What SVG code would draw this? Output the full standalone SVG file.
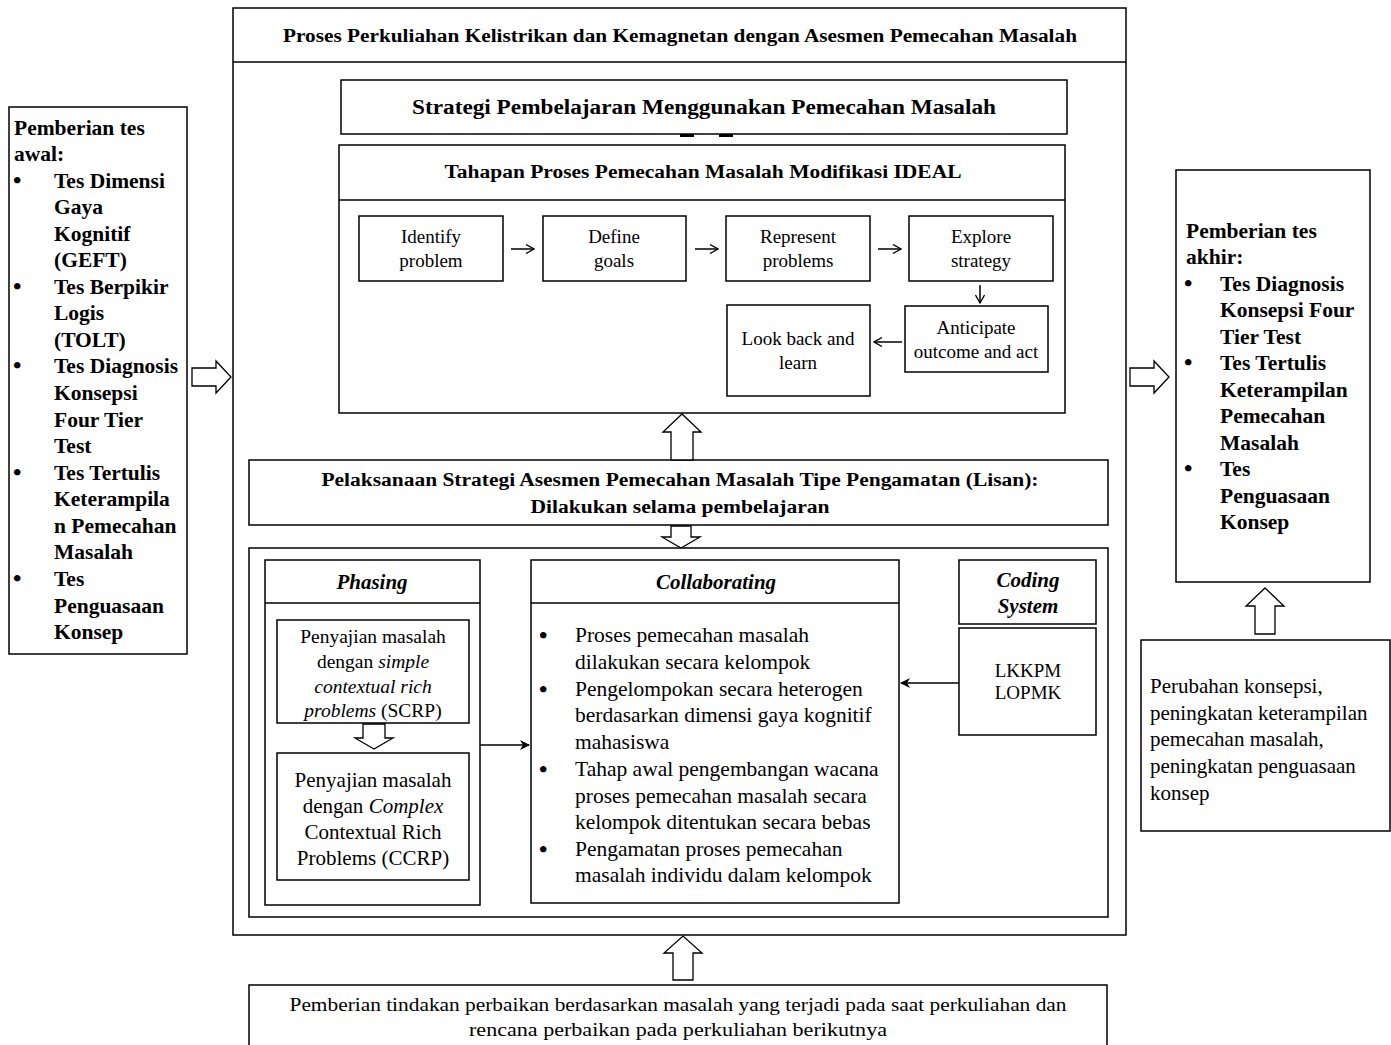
<svg xmlns="http://www.w3.org/2000/svg" width="1391" height="1045" viewBox="0 0 1391 1045">
<defs>
<style>
.box{fill:#fff;stroke:#000;stroke-width:1.5}
.hol{fill:#fff;stroke:#000;stroke-width:1.3}
.ln{fill:none;stroke:#000;stroke-width:1.5}
text{font-family:"Liberation Serif","Times New Roman",serif;fill:#000}
.b{font-weight:bold}
.bi{font-weight:bold;font-style:italic}
.c{text-anchor:middle}
.bu{font-size:24px;font-weight:bold}
.s18{font-size:18px}
.s19{font-size:19px}
.s21{font-size:21px}
.s215{font-size:21.5px}
</style>
<marker id="ah" viewBox="0 0 10 10" refX="9" refY="5" markerWidth="10" markerHeight="10" markerUnits="userSpaceOnUse" orient="auto">
<path d="M1,0.5 L9,5 L1,9.5" fill="none" stroke="#000" stroke-width="1.3"/>
</marker>
<marker id="af" viewBox="0 0 10 10" refX="9" refY="5" markerWidth="10" markerHeight="10" markerUnits="userSpaceOnUse" orient="auto">
<path d="M0,0 L10,5 L0,10 L3,5 Z" fill="#000"/>
</marker>
</defs>
<rect width="1391" height="1045" fill="#fff"/>

<g id="main-frame">
<rect class="box" x="233" y="8" width="893" height="927"/>
<line class="ln" x1="233" y1="62" x2="1126" y2="62"/>
<text class="b c s18" x="680" y="42" textLength="794" lengthAdjust="spacingAndGlyphs">Proses Perkuliahan Kelistrikan dan Kemagnetan dengan Asesmen Pemecahan Masalah</text>
</g>

<g id="strategi">
<rect x="680" y="132" width="14" height="5" fill="#000"/>
<rect x="719" y="132" width="14" height="5" fill="#000"/>
<rect class="box" x="341" y="80" width="726" height="54"/>
<text class="b c" font-size="20" x="704" y="114" textLength="584" lengthAdjust="spacingAndGlyphs">Strategi Pembelajaran Menggunakan Pemecahan Masalah</text>
</g>

<g id="tahapan">
<rect class="box" x="339" y="145" width="726" height="268"/>
<line class="ln" x1="339" y1="200" x2="1065" y2="200"/>
<text class="b c s18" x="703" y="178" textLength="517" lengthAdjust="spacingAndGlyphs">Tahapan Proses Pemecahan Masalah Modifikasi IDEAL</text>
</g>

<g id="identify">
<rect class="box" x="359" y="216" width="144" height="65"/>
<text class="c s19" x="431" y="243">Identify</text>
<text class="c s19" x="431" y="267">problem</text>
</g>
<g id="define">
<rect class="box" x="543" y="216" width="143" height="65"/>
<text class="c s19" x="614" y="243">Define</text>
<text class="c s19" x="614" y="267">goals</text>
</g>
<g id="represent">
<rect class="box" x="726" y="216" width="144" height="65"/>
<text class="c s19" x="798" y="243">Represent</text>
<text class="c s19" x="798" y="267">problems</text>
</g>
<g id="explore">
<rect class="box" x="909" y="216" width="144" height="65"/>
<text class="c s19" x="981" y="243">Explore</text>
<text class="c s19" x="981" y="267">strategy</text>
</g>
<g id="anticipate">
<rect class="box" x="905" y="306" width="143" height="66"/>
<text class="c s19" x="976" y="334">Anticipate</text>
<text class="c s19" x="976" y="358">outcome and act</text>
</g>
<g id="lookback">
<rect class="box" x="727" y="305" width="143" height="91"/>
<text class="c s19" x="798" y="345">Look back and</text>
<text class="c s19" x="798" y="369">learn</text>
</g>

<g id="pelaksanaan">
<rect class="box" x="249" y="460" width="859" height="65"/>
<text class="b c s18" x="680" y="486" textLength="717" lengthAdjust="spacingAndGlyphs">Pelaksanaan Strategi Asesmen Pemecahan Masalah Tipe Pengamatan (Lisan):</text>
<text class="b c s18" x="680" y="513" textLength="299" lengthAdjust="spacingAndGlyphs">Dilakukan selama pembelajaran</text>
</g>

<g id="inner-frame">
<rect class="box" x="249" y="548" width="859" height="369" stroke-width="2"/>
</g>

<g id="phasing">
<rect class="box" x="265" y="560" width="215" height="345"/>
<line class="ln" x1="265" y1="603" x2="480" y2="603"/>
<text class="bi c s21" x="372" y="589">Phasing</text>
</g>
<g id="scrp">
<rect class="box" x="277" y="620" width="192" height="103"/>
<text class="c" font-size="19.5" x="373" y="643">Penyajian masalah</text>
<text class="c" font-size="19.5" x="373" y="668">dengan <tspan font-style="italic">simple</tspan></text>
<text class="c" font-size="19.5" x="373" y="693" font-style="italic">contextual rich</text>
<text class="c" font-size="19.5" x="373" y="717"><tspan font-style="italic">problems</tspan> (SCRP)</text>
</g>
<g id="ccrp">
<rect class="box" x="277" y="753" width="192" height="127"/>
<text class="c s21" x="373" y="787">Penyajian masalah</text>
<text class="c s21" x="373" y="813">dengan <tspan font-style="italic">Complex</tspan></text>
<text class="c s21" x="373" y="839">Contextual Rich</text>
<text class="c s21" x="373" y="865">Problems (CCRP)</text>
</g>

<g id="collaborating">
<rect class="box" x="531" y="560" width="368" height="343"/>
<line class="ln" x1="531" y1="603" x2="899" y2="603"/>
<text class="bi c s21" x="716" y="589">Collaborating</text>
<g class="s215">
<text class="bu" x="539" y="643">•</text><text x="575" y="642">Proses pemecahan masalah</text>
<text x="575" y="669">dilakukan secara kelompok</text>
<text class="bu" x="539" y="697">•</text><text x="575" y="696">Pengelompokan secara heterogen</text>
<text x="575" y="722">berdasarkan dimensi gaya kognitif</text>
<text x="575" y="749">mahasiswa</text>
<text class="bu" x="539" y="777">•</text><text x="575" y="776">Tahap awal pengembangan wacana</text>
<text x="575" y="803">proses pemecahan masalah secara</text>
<text x="575" y="829">kelompok ditentukan secara bebas</text>
<text class="bu" x="539" y="857">•</text><text x="575" y="856">Pengamatan proses pemecahan</text>
<text x="575" y="882">masalah individu dalam kelompok</text>
</g>
</g>

<g id="coding-system">
<rect class="box" x="959" y="560" width="137" height="64"/>
<text class="bi c s21" x="1028" y="587">Coding</text>
<text class="bi c s21" x="1028" y="613">System</text>
</g>
<g id="lkkpm">
<rect class="box" x="959" y="628" width="137" height="107"/>
<text class="c s19" x="1028" y="677">LKKPM</text>
<text class="c s19" x="1028" y="699">LOPMK</text>
</g>

<g id="pretest">
<rect class="box" x="9" y="107" width="178" height="547"/>
<g class="b s215">
<text x="14" y="135">Pemberian tes</text>
<text x="14" y="161">awal:</text>
<text class="bu" x="13" y="188">•</text><text x="54" y="188">Tes Dimensi</text>
<text x="54" y="214">Gaya</text>
<text x="54" y="241">Kognitif</text>
<text x="54" y="267">(GEFT)</text>
<text class="bu" x="13" y="294">•</text><text x="54" y="294">Tes Berpikir</text>
<text x="54" y="320">Logis</text>
<text x="54" y="347">(TOLT)</text>
<text class="bu" x="13" y="373">•</text><text x="54" y="373">Tes Diagnosis</text>
<text x="54" y="400">Konsepsi</text>
<text x="54" y="427">Four Tier</text>
<text x="54" y="453">Test</text>
<text class="bu" x="13" y="480">•</text><text x="54" y="480">Tes Tertulis</text>
<text x="54" y="506">Keterampila</text>
<text x="54" y="533">n Pemecahan</text>
<text x="54" y="559">Masalah</text>
<text class="bu" x="13" y="586">•</text><text x="54" y="586">Tes</text>
<text x="54" y="613">Penguasaan</text>
<text x="54" y="639">Konsep</text>
</g>
</g>

<g id="posttest">
<rect class="box" x="1176" y="170" width="194" height="412"/>
<g class="b s215">
<text x="1186" y="238">Pemberian tes</text>
<text x="1186" y="264">akhir:</text>
<text class="bu" x="1184" y="291">•</text><text x="1220" y="291">Tes Diagnosis</text>
<text x="1220" y="317">Konsepsi Four</text>
<text x="1220" y="344">Tier Test</text>
<text class="bu" x="1184" y="370">•</text><text x="1220" y="370">Tes Tertulis</text>
<text x="1220" y="397">Keterampilan</text>
<text x="1220" y="423">Pemecahan</text>
<text x="1220" y="450">Masalah</text>
<text class="bu" x="1184" y="476">•</text><text x="1220" y="476">Tes</text>
<text x="1220" y="503">Penguasaan</text>
<text x="1220" y="529">Konsep</text>
</g>
</g>

<g id="outcome">
<rect class="box" x="1141" y="640" width="249" height="191"/>
<g class="s21">
<text x="1150" y="693">Perubahan konsepsi,</text>
<text x="1150" y="720">peningkatan keterampilan</text>
<text x="1150" y="746">pemecahan masalah,</text>
<text x="1150" y="773">peningkatan penguasaan</text>
<text x="1150" y="800">konsep</text>
</g>
</g>

<g id="perbaikan">
<rect class="box" x="249" y="985" width="858" height="70"/>
<text class="c s18" x="678" y="1011" textLength="777" lengthAdjust="spacingAndGlyphs">Pemberian tindakan perbaikan berdasarkan masalah yang terjadi pada saat perkuliahan dan</text>
<text class="c s18" x="678" y="1036" textLength="418" lengthAdjust="spacingAndGlyphs">rencana perbaikan pada perkuliahan berikutnya</text>
</g>

<g id="connectors">
<line class="ln" x1="511" y1="249" x2="534" y2="249" marker-end="url(#ah)"/>
<line class="ln" x1="695" y1="249" x2="718" y2="249" marker-end="url(#ah)"/>
<line class="ln" x1="878" y1="249" x2="901" y2="249" marker-end="url(#ah)"/>
<line class="ln" x1="980" y1="285" x2="980" y2="303" marker-end="url(#ah)"/>
<line class="ln" x1="902" y1="342" x2="874" y2="342" marker-end="url(#ah)"/>
<line class="ln" x1="480" y1="745" x2="529" y2="745" marker-end="url(#af)"/>
<line class="ln" x1="959" y1="683" x2="901" y2="683" marker-end="url(#af)"/>
<polygon class="hol" points="671,460 671,432 663,432 682,414 701,432 693,432 693,460"/>
<polygon class="hol" points="671,526 671,537 662,537 681,548 700,537 691,537 691,526"/>
<polygon class="hol" points="363,724 363,738 355,738 374,749 393,738 385,738 385,724"/>
<polygon class="hol" points="673,980 673,953 664,953 683,936 702,953 693,953 693,980"/>
<polygon class="hol" points="1255,634 1255,606 1246,606 1265,588 1284,606 1275,606 1275,634"/>
<polygon class="hol" points="192,368 216,368 216,361 231,377 216,393 216,386 192,386"/>
<polygon class="hol" points="1130,368 1154,368 1154,361 1169,377 1154,393 1154,386 1130,386"/>
</g>
</svg>
